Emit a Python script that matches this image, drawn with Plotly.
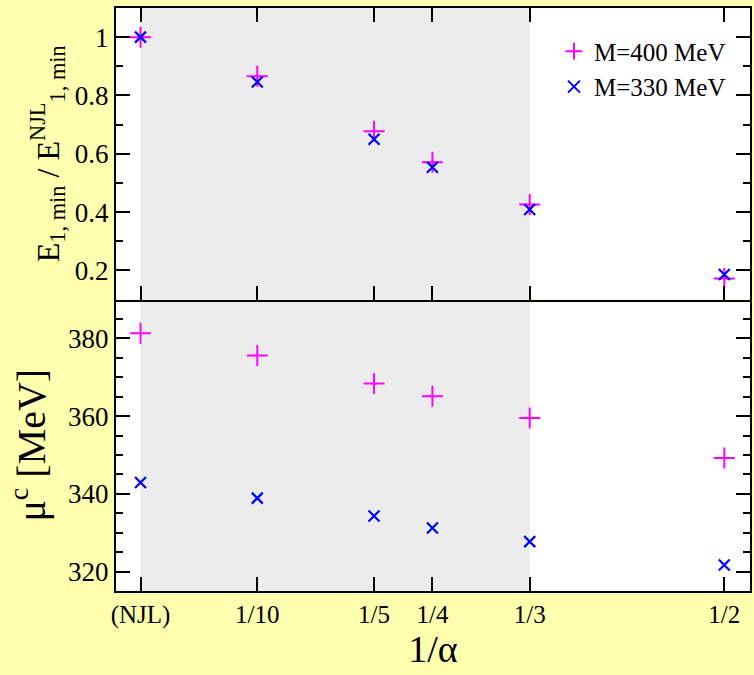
import plotly.graph_objects as go
from plotly.subplots import make_subplots

# ---- data ----
x_vals = [0, 0.1, 0.2, 0.25, 1/3, 0.5]
x_labels = ["(NJL)", "1/10", "1/5", "1/4", "1/3", "1/2"]

ratio_m400 = [1.0, 0.866, 0.677, 0.571, 0.426, 0.172]
ratio_m330 = [1.0, 0.846, 0.650, 0.554, 0.409, 0.186]

mu_m400 = [381.3, 375.6, 368.4, 365.1, 359.5, 349.2]
mu_m330 = [342.9, 338.9, 334.3, 331.2, 327.7, 321.7]

shade_range = [0, 1/3]

FONT = "Liberation Serif, Times New Roman, Times, serif"
MAG = "#FF00FF"
BLU = "#0000FF"
BG = "#FFFFB0"

fig = make_subplots(rows=2, cols=1, shared_xaxes=True, vertical_spacing=0)

plus = dict(symbol="cross-thin", size=15, line=dict(color=MAG, width=2), color=MAG)
cross = dict(symbol="x-thin", size=11, line=dict(color=BLU, width=2.2), color=BLU)

fig.add_trace(go.Scatter(x=x_vals, y=ratio_m400, mode="markers", marker=plus,
                         name="M=400 MeV"), row=1, col=1)
fig.add_trace(go.Scatter(x=x_vals, y=ratio_m330, mode="markers", marker=cross,
                         name="M=330 MeV"), row=1, col=1)
fig.add_trace(go.Scatter(x=x_vals, y=mu_m400, mode="markers", marker=plus,
                         name="M=400 MeV", showlegend=False), row=2, col=1)
fig.add_trace(go.Scatter(x=x_vals, y=mu_m330, mode="markers", marker=cross,
                         name="M=330 MeV", showlegend=False), row=2, col=1)

for yref in ["y", "y2"]:
    fig.add_shape(type="rect", xref="x", yref=yref + " domain",
                  x0=shade_range[0], x1=shade_range[1], y0=0, y1=1,
                  fillcolor="#ececec", line=dict(width=0), layer="below")

xcommon = dict(range=[-0.021, 0.522], tickvals=x_vals, ticktext=x_labels,
               showgrid=False, zeroline=False, showline=True, linecolor="black",
               linewidth=2, ticks="inside", ticklen=14, tickwidth=1.5,
               tickcolor="black")
fig.update_xaxes(**xcommon, mirror="allticks", showticklabels=False, row=1, col=1)
fig.update_xaxes(**xcommon, mirror=False, showticklabels=True,
                 tickfont=dict(family=FONT, size=25, color="black"),
                 title=dict(text="1/α", font=dict(family=FONT, size=38, color="black"),
                            standoff=2),
                 row=2, col=1)

ycommon = dict(showgrid=False, zeroline=False, showline=True, linecolor="black",
               linewidth=2, ticks="inside", ticklen=14, tickwidth=1.5,
               tickcolor="black", mirror="allticks",
               tickfont=dict(family=FONT, size=27, color="black"))
fig.update_yaxes(**ycommon, range=[0.1, 1.1], tickvals=[0.2, 0.4, 0.6, 0.8, 1.0],
                 ticktext=["0.2", "0.4", "0.6", "0.8", "1"],
                 minor=dict(ticks="inside", dtick=0.1, tick0=0, ticklen=7,
                            tickcolor="black", tickwidth=1.5, showgrid=False),
                 title=dict(text="E<sub>1, min</sub> / E<sup>NJL</sup><sub>1, min</sub>",
                            font=dict(family=FONT, size=32, color="black"), standoff=6),
                 row=1, col=1)
fig.update_yaxes(**ycommon, range=[315, 390], tickvals=[320, 340, 360, 380],
                 minor=dict(ticks="inside", dtick=5, tick0=0, ticklen=7,
                            tickcolor="black", tickwidth=1.5, showgrid=False),
                 title=dict(text="μ<sup>c</sup> [MeV]",
                            font=dict(family=FONT, size=40, color="black"), standoff=10),
                 row=2, col=1)

fig.update_layout(
    width=754, height=675,
    margin=dict(l=116, r=2, t=8, b=84),
    paper_bgcolor=BG, plot_bgcolor="white",
    font=dict(family=FONT, color="black"),
    legend=dict(x=0.97, y=0.965, xanchor="right", yanchor="top",
                bgcolor="rgba(0,0,0,0)", font=dict(family=FONT, size=25, color="black"),
                itemsizing="constant", tracegroupgap=0),
    showlegend=True,
)

fig.write_html("out.html")
